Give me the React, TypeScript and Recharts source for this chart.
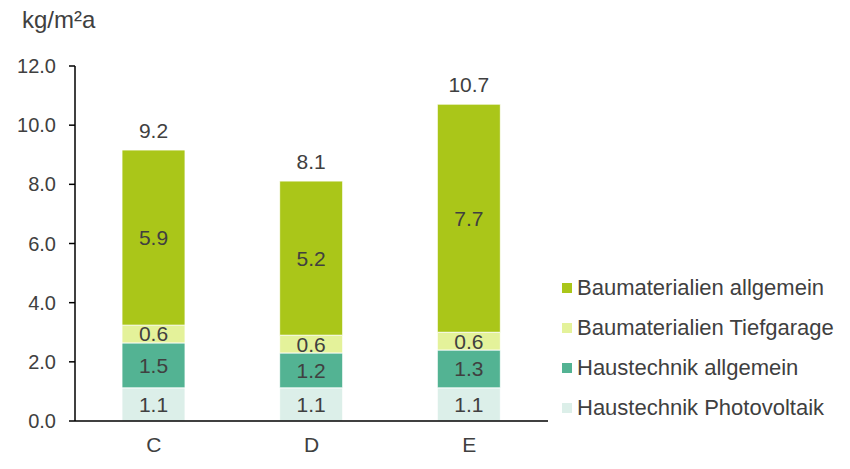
import { BarChart, Bar, XAxis, YAxis, LabelList } from 'recharts';

const categories = ['C', 'D', 'E'];
const photovoltaik = [1.12, 1.12, 1.12];
const haustechnik = [1.52, 1.18, 1.28];
const tiefgarage = [0.6, 0.6, 0.6];
const baumaterialien = [5.92, 5.21, 7.71];
const totals = [9.2, 8.1, 10.7];
const yTicks = [0, 2, 4, 6, 8, 10, 12];

const series = [
  { key: 'photovoltaik', name: 'Haustechnik Photovoltaik', color: '#DCEFE9' },
  { key: 'haustechnik', name: 'Haustechnik allgemein', color: '#53B393' },
  { key: 'tiefgarage', name: 'Baumaterialien Tiefgarage', color: '#E4F29A' },
  { key: 'baumaterialien', name: 'Baumaterialien allgemein', color: '#AAC619' },
];

const data = categories.map((cat, i) => ({
  cat,
  photovoltaik: photovoltaik[i],
  haustechnik: haustechnik[i],
  tiefgarage: tiefgarage[i],
  baumaterialien: baumaterialien[i],
  total: totals[i],
}));

const textColor = '#404040';
const font = '"Liberation Sans", Arial, sans-serif';
const fmt = (v: any) => Number(v).toFixed(1);

export default function App() {
  return (
    <div style={{ position: 'absolute', top: 0, left: 0, width: 850, height: 469, background: '#fff', fontFamily: font }}>
      <div style={{ position: 'absolute', left: 22, top: 6, fontSize: 24, color: textColor }}>kg/m²a</div>
      <BarChart
        width={850}
        height={469}
        data={data}
        margin={{ top: 66, right: 302, left: 0, bottom: 18 }}
        style={{ fontFamily: font }}
      >
        <XAxis
          dataKey="cat"
          tickLine={false}
          tickSize={0}
          tickMargin={16}
          height={30}
          axisLine={{ stroke: '#000', strokeWidth: 1.5 }}
          tick={{ fontSize: 21, fill: textColor }}
        />
        <YAxis
          domain={[0, 12]}
          ticks={yTicks}
          width={75}
          tickSize={6}
          tickMargin={13}
          tickFormatter={fmt}
          axisLine={{ stroke: '#000', strokeWidth: 1.5 }}
          tickLine={{ stroke: '#000', strokeWidth: 1.5 }}
          tick={{ fontSize: 20, fill: textColor }}
        />
        {series.map((s, idx) => (
          <Bar
            key={s.key}
            dataKey={s.key}
            name={s.name}
            stackId="a"
            fill={s.color}
            stroke="#ffffff"
            strokeWidth={0.8}
            barSize={63}
            isAnimationActive={false}
          >
            <LabelList
              dataKey={s.key}
              position="center"
              formatter={fmt}
              style={{ fontSize: 21, fill: textColor }}
            />
            {idx === series.length - 1 && (
              <LabelList
                dataKey="total"
                position="top"
                offset={12}
                formatter={fmt}
                style={{ fontSize: 21, fill: textColor }}
              />
            )}
          </Bar>
        ))}
      </BarChart>
      {series
        .slice()
        .reverse()
        .map((s, i) => (
          <div
            key={s.key}
            style={{
              position: 'absolute',
              left: 562,
              top: 275 + i * 40,
              height: 26,
              display: 'flex',
              alignItems: 'center',
              fontSize: 22,
              color: textColor,
              whiteSpace: 'nowrap',
            }}
          >
            <span style={{ display: 'inline-block', width: 10, height: 10, background: s.color, marginRight: 5 }} />
            {s.name}
          </div>
        ))}
    </div>
  );
}
